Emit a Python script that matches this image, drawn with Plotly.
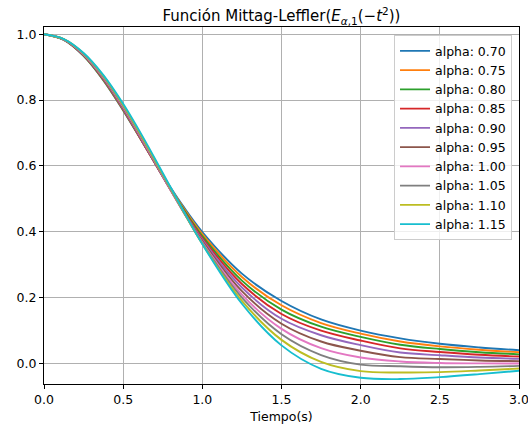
import plotly.graph_objects as go

t = [0.0, 0.125, 0.25, 0.375, 0.5, 0.625, 0.75, 0.875, 1.0, 1.25, 1.5, 1.75, 2.0, 2.25, 2.5, 2.75, 3.0]

alpha_labels = ["alpha: 0.70", "alpha: 0.75", "alpha: 0.80", "alpha: 0.85", "alpha: 0.90",
                "alpha: 0.95", "alpha: 1.00", "alpha: 1.05", "alpha: 1.10", "alpha: 1.15"]

e_070 = [1, .9830, .9342, .8600, .7688, .6701, .5719, .4805, .3995, .2731, .190, .134, .100, .0764, .0601, .0490, .0405]
e_075 = [1, .9833, .9349, .8611, .7698, .6702, .5700, .4767, .3930, .263, .177, .123, .091, .0672, .0523, .0420, .0345]
e_080 = [1, .9836, .9356, .8622, .7708, .6704, .5687, .4731, .3869, .252, .164, .112, .081, .0572, .0441, .0345, .0281]
e_085 = [1, .9839, .9364, .8633, .7720, .6708, .5678, .4697, .3813, .2416, .1506, .100, .070, .0462, .0352, .0267, .0213]
e_090 = [1, .9841, .9372, .8650, .7740, .6722, .5677, .4671, .3762, .231, .136, .086, .056, .0335, .0254, .0184, .0144]
e_095 = [1, .9843, .9383, .8668, .7762, .6742, .5684, .4656, .3718, .220, .121, .067, .039, .0195, .0140, .0095, .0072]
e_100 = [1, .9845, .9394, .8688, .7788, .6766, .5698, .4650, .3679, .2096, .1054, .0468, .0183, .0063, .0019, .0005, .0001]
e_105 = [1, .9848, .9407, .8712, .7820, .6800, .5722, .4657, .3652, .2005, .089, .026, -.003, -.008, -.011, -.010, -.0071]
e_110 = [1, .9852, .9419, .8736, .7854, .6836, .5752, .4670, .3635, .1905, .072, .005, -.023, -.027, -.026, -.021, -.0151]
e_115 = [1, .9855, .9432, .8761, .7889, .6877, .5788, .4686, .3628, .1816, .0553, -.0158, -.043, -.047, -.041, -.032, -.0219]

series = [e_070, e_075, e_080, e_085, e_090, e_095, e_100, e_105, e_110, e_115]
colors = ["#1f77b4", "#ff7f0e", "#2ca02c", "#d62728", "#9467bd",
          "#8c564b", "#e377c2", "#7f7f7f", "#bcbd22", "#17becf"]

fig = go.Figure()
for lab, ys, c in zip(alpha_labels, series, colors):
    fig.add_trace(go.Scatter(x=t, y=ys, mode="lines", name=lab,
                             line=dict(color=c, width=1.9, shape="spline", smoothing=1.0)))

axis_common = dict(showline=True, linecolor="black", linewidth=1, mirror=True,
                   ticks="outside", ticklen=4, tickcolor="black", tickwidth=1,
                   showgrid=True, gridcolor="#b0b0b0", gridwidth=1, zeroline=False,
                   automargin=False, ticklabeloverflow="allow",
                   tickfont=dict(family="DejaVu Sans", size=12.5, color="black"))

fig.update_layout(
    width=528, height=427,
    margin=dict(l=44, r=9, t=27, b=43),
    paper_bgcolor="white", plot_bgcolor="white",
    font=dict(family="DejaVu Sans", size=12.5, color="black"),
    title=dict(text="Función Mittag-Leffler(<i>E</i><sub><i>α</i>,1</sub>(−<i>t</i><sup>2</sup>))",
               x=0.5, xref="paper", xanchor="center", y=0.962, yref="container", yanchor="middle",
               font=dict(family="DejaVu Sans", size=15, color="black")),
    xaxis=dict(range=[0, 3], tickvals=[0, 0.5, 1, 1.5, 2, 2.5, 3], tickformat=".1f",
               title=dict(text="Tiempo(s)", standoff=6,
                          font=dict(family="DejaVu Sans", size=12.5)), **axis_common),
    yaxis=dict(range=[-0.062, 1.022], tickvals=[0, 0.2, 0.4, 0.6, 0.8, 1.0], tickformat=".1f",
               **axis_common),
    legend=dict(x=0.9853, y=0.977, xanchor="right", yanchor="top",
                bgcolor="rgba(255,255,255,0.8)", bordercolor="#cccccc", borderwidth=1,
                font=dict(family="DejaVu Sans", size=12.5), itemwidth=30,
                tracegroupgap=0),
    showlegend=True,
)

fig.write_html("out.html")
